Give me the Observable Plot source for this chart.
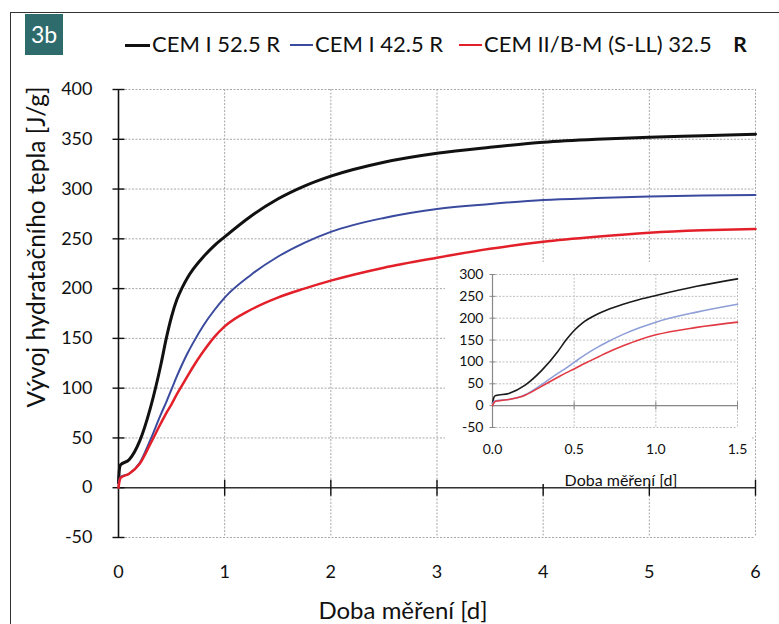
<!DOCTYPE html>
<html><head><meta charset="utf-8">
<script src="https://cdn.jsdelivr.net/npm/d3@7"></script>
<script src="https://cdn.jsdelivr.net/npm/@observablehq/plot@0.6"></script>
<style>
body{margin:0;background:#fff;}
#wrap{position:relative;width:779px;height:624px;overflow:hidden;font-family:Lato,"Noto Sans",sans-serif;color:#111;background:#fff;}
#frame{position:absolute;left:10px;top:12px;width:800px;height:700px;border-left:1.5px solid #333;border-top:1.5px solid #333;}
#tag{position:absolute;left:25px;top:14px;width:38px;height:41px;background:#2e6b6d;color:#fff;font-size:23px;line-height:41px;text-align:center;}
.lg{position:absolute;top:32px;font-size:22px;line-height:24px;white-space:nowrap;}
.sw{position:absolute;height:0;}
#rbox{position:absolute;left:722px;top:22px;width:36px;height:43px;background:#fff;font-weight:bold;font-size:21px;line-height:43px;text-align:center;}
#ylab{position:absolute;left:35px;top:247px;transform:translate(-50%,-50%) rotate(-90deg);font-size:24.5px;white-space:nowrap;}
#xlab{position:absolute;left:403px;top:609px;transform:translate(-50%,-50%);font-size:24px;white-space:nowrap;}
#main{position:absolute;left:0;top:0;}
#inset{position:absolute;left:445px;top:262px;}
#ixlab{position:absolute;left:621px;top:479px;transform:translate(-50%,-50%);font-size:16px;white-space:nowrap;}
</style></head><body>
<div id="wrap">
  <div id="main"></div>
  <div id="inset"></div>
  <div id="frame"></div>
  <div id="tag">3b</div>
  <div id="legend"></div>
  <div id="rbox">R</div>
  <div id="ylab">Vývoj hydratačního tepla [J/g]</div>
  <div id="xlab">Doba měření [d]</div>
  <div id="ixlab">Doba měření [d]</div>
</div>
<script>
// ---- data ----
const days    = [0, 0.01, 0.02, 0.1, 0.2, 0.3, 0.4, 0.45, 0.5, 0.55, 0.6, 0.65, 0.7, 0.8, 0.9, 1.0, 1.25, 1.5, 1.75, 2.0, 2.5, 3.0, 3.5, 4.0, 4.5, 5.0, 5.5, 6.0];
const cem525R = [5, 20, 23, 28, 47, 80, 124, 150, 172, 189, 201, 211, 219, 232, 243, 252, 273, 290, 303, 313, 327, 336, 342, 347, 350, 352, 353.5, 355];
const cem425R = [5, 9, 11, 14, 25, 48, 74, 86, 99, 112, 124, 135, 145, 163, 178, 191, 214, 232, 246, 257, 271, 280, 285, 289, 291, 292.5, 293.5, 294];
const cem325R = [0, 7, 10, 14, 24, 44, 65, 75, 84, 94, 103, 112, 121, 137, 151, 162, 179, 191, 200, 208, 221, 231, 240, 247, 252, 256, 258.5, 260];
const seriesNames = ["CEM I 52.5 R", "CEM I 42.5 R", "CEM II/B-M (S-LL) 32.5"];
const xTicks = [0, 1, 2, 3, 4, 5, 6];
const yTicks = [-50, 0, 50, 100, 150, 200, 250, 300, 350, 400];
const insetXTicks = [0, 0.5, 1.0, 1.5];
const insetYTicks = [-50, 0, 50, 100, 150, 200, 250, 300];
const insetMaxDay = 1.5;

// ---- styling ----
const mainColors  = ["#111111", "#3a4a9e", "#e3202a"];
const mainWidths  = [3, 2, 2.5];
const insetColors = ["#1a1a1a", "#8e9fd8", "#e23a44"];
const insetWidths = [1.6, 1.6, 1.6];
const gridStyle = {stroke: "#a8a8a8", strokeOpacity: 1, strokeWidth: 1, strokeDasharray: "2,1.5"};

const seriesValues = [cem525R, cem425R, cem325R];
const rows = seriesValues.map((vals, i) => days.map((t, j) => ({t, v: vals[j], s: seriesNames[i]})));

const hTick = (h) => ({draw(ctx) { ctx.moveTo(-h, 0); ctx.lineTo(h, 0); }});
const vTick = (h) => ({draw(ctx) { ctx.moveTo(0, -h); ctx.lineTo(0, h); }});
const plain = d => String(d);

// ---- main chart ----
const main = Plot.plot({
  width: 779, height: 624,
  marginLeft: 118, marginRight: 24, marginTop: 89, marginBottom: 87,
  x: {domain: [0, 6]},
  y: {domain: [-50, 400]},
  style: {fontFamily: "Lato, 'Noto Sans', sans-serif", fontSize: "18px", color: "#111", background: "transparent", overflow: "visible"},
  marks: [
    Plot.gridY(yTicks, gridStyle),
    Plot.gridX(xTicks.slice(1), gridStyle),
    Plot.axisY(yTicks, {tickSize: 0, tickPadding: 26, label: null, fontSize: 18, tickFormat: plain}),
    Plot.axisX(xTicks, {tickSize: 0, tickPadding: 28, label: null, fontSize: 18, tickFormat: plain}),
    Plot.ruleY([0], {stroke: "#333", strokeWidth: 1.5}),
    Plot.ruleX([0], {stroke: "#111", strokeWidth: 1.6}),
    Plot.dot(yTicks, {x: () => 0, y: d => d, symbol: hTick(6), stroke: "#111", strokeWidth: 1.4, fill: "none"}),
    Plot.dot(xTicks.slice(1), {x: d => d, y: () => 0, symbol: vTick(8), stroke: "#111", strokeWidth: 1.4, fill: "none"}),
    ...rows.map((r, i) => Plot.line(r, {x: "t", y: "v", stroke: mainColors[i], strokeWidth: mainWidths[i], curve: "monotone-x"}))
  ]
});
document.getElementById("main").append(main);

// ---- inset chart ----
const inset = Plot.plot({
  width: 307, height: 222,
  marginLeft: 47, marginRight: 15, marginTop: 12, marginBottom: 57,
  x: {domain: [0, insetMaxDay]},
  y: {domain: [-50, 300]},
  style: {fontFamily: "Lato, 'Noto Sans', sans-serif", fontSize: "14px", color: "#111", background: "#fff"},
  marks: [
    Plot.gridY(insetYTicks, {...gridStyle, stroke: "#c0c0c0"}),
    Plot.gridX(insetXTicks.slice(1), {...gridStyle, stroke: "#c0c0c0"}),
    Plot.axisY(insetYTicks, {tickSize: 0, tickPadding: 9, label: null, fontSize: 14, tickFormat: plain}),
    Plot.axisX(insetXTicks, {tickSize: 0, tickPadding: 17, label: null, fontSize: 14, tickFormat: d3.format(".1f")}),
    Plot.ruleY([0], {stroke: "#888", strokeWidth: 1.2}),
    Plot.ruleX([0], {stroke: "#888", strokeWidth: 1.2}),
    Plot.dot(insetYTicks, {x: () => 0, y: d => d, symbol: hTick(3), stroke: "#888", strokeWidth: 1, fill: "none"}),
    Plot.dot(insetXTicks.slice(1), {x: d => d, y: () => 0, symbol: vTick(4), stroke: "#888", strokeWidth: 1, fill: "none"}),
    ...rows.map((r, i) => Plot.line(r.filter(d => d.t <= insetMaxDay), {x: "t", y: "v", stroke: insetColors[i], strokeWidth: insetWidths[i], curve: "monotone-x"}))
  ]
});
document.getElementById("inset").append(inset);

// ---- legend ----
const legendPos = [{sw: 125, sw2: 150, tx: 152}, {sw: 290, sw2: 313, tx: 315}, {sw: 459, sw2: 482, tx: 484}];
const legend = document.getElementById("legend");
seriesNames.forEach((name, i) => {
  const p = legendPos[i];
  const sw = document.createElement("div");
  sw.className = "sw";
  sw.style.left = p.sw + "px";
  sw.style.width = (p.sw2 - p.sw) + "px";
  sw.style.top = (45 - mainWidths[i] / 2) + "px";
  sw.style.borderTop = mainWidths[i] + "px solid " + mainColors[i];
  legend.append(sw);
  const tx = document.createElement("div");
  tx.className = "lg";
  tx.style.left = p.tx + "px";
  tx.textContent = name;
  legend.append(tx);
});
</script>
</body></html>
